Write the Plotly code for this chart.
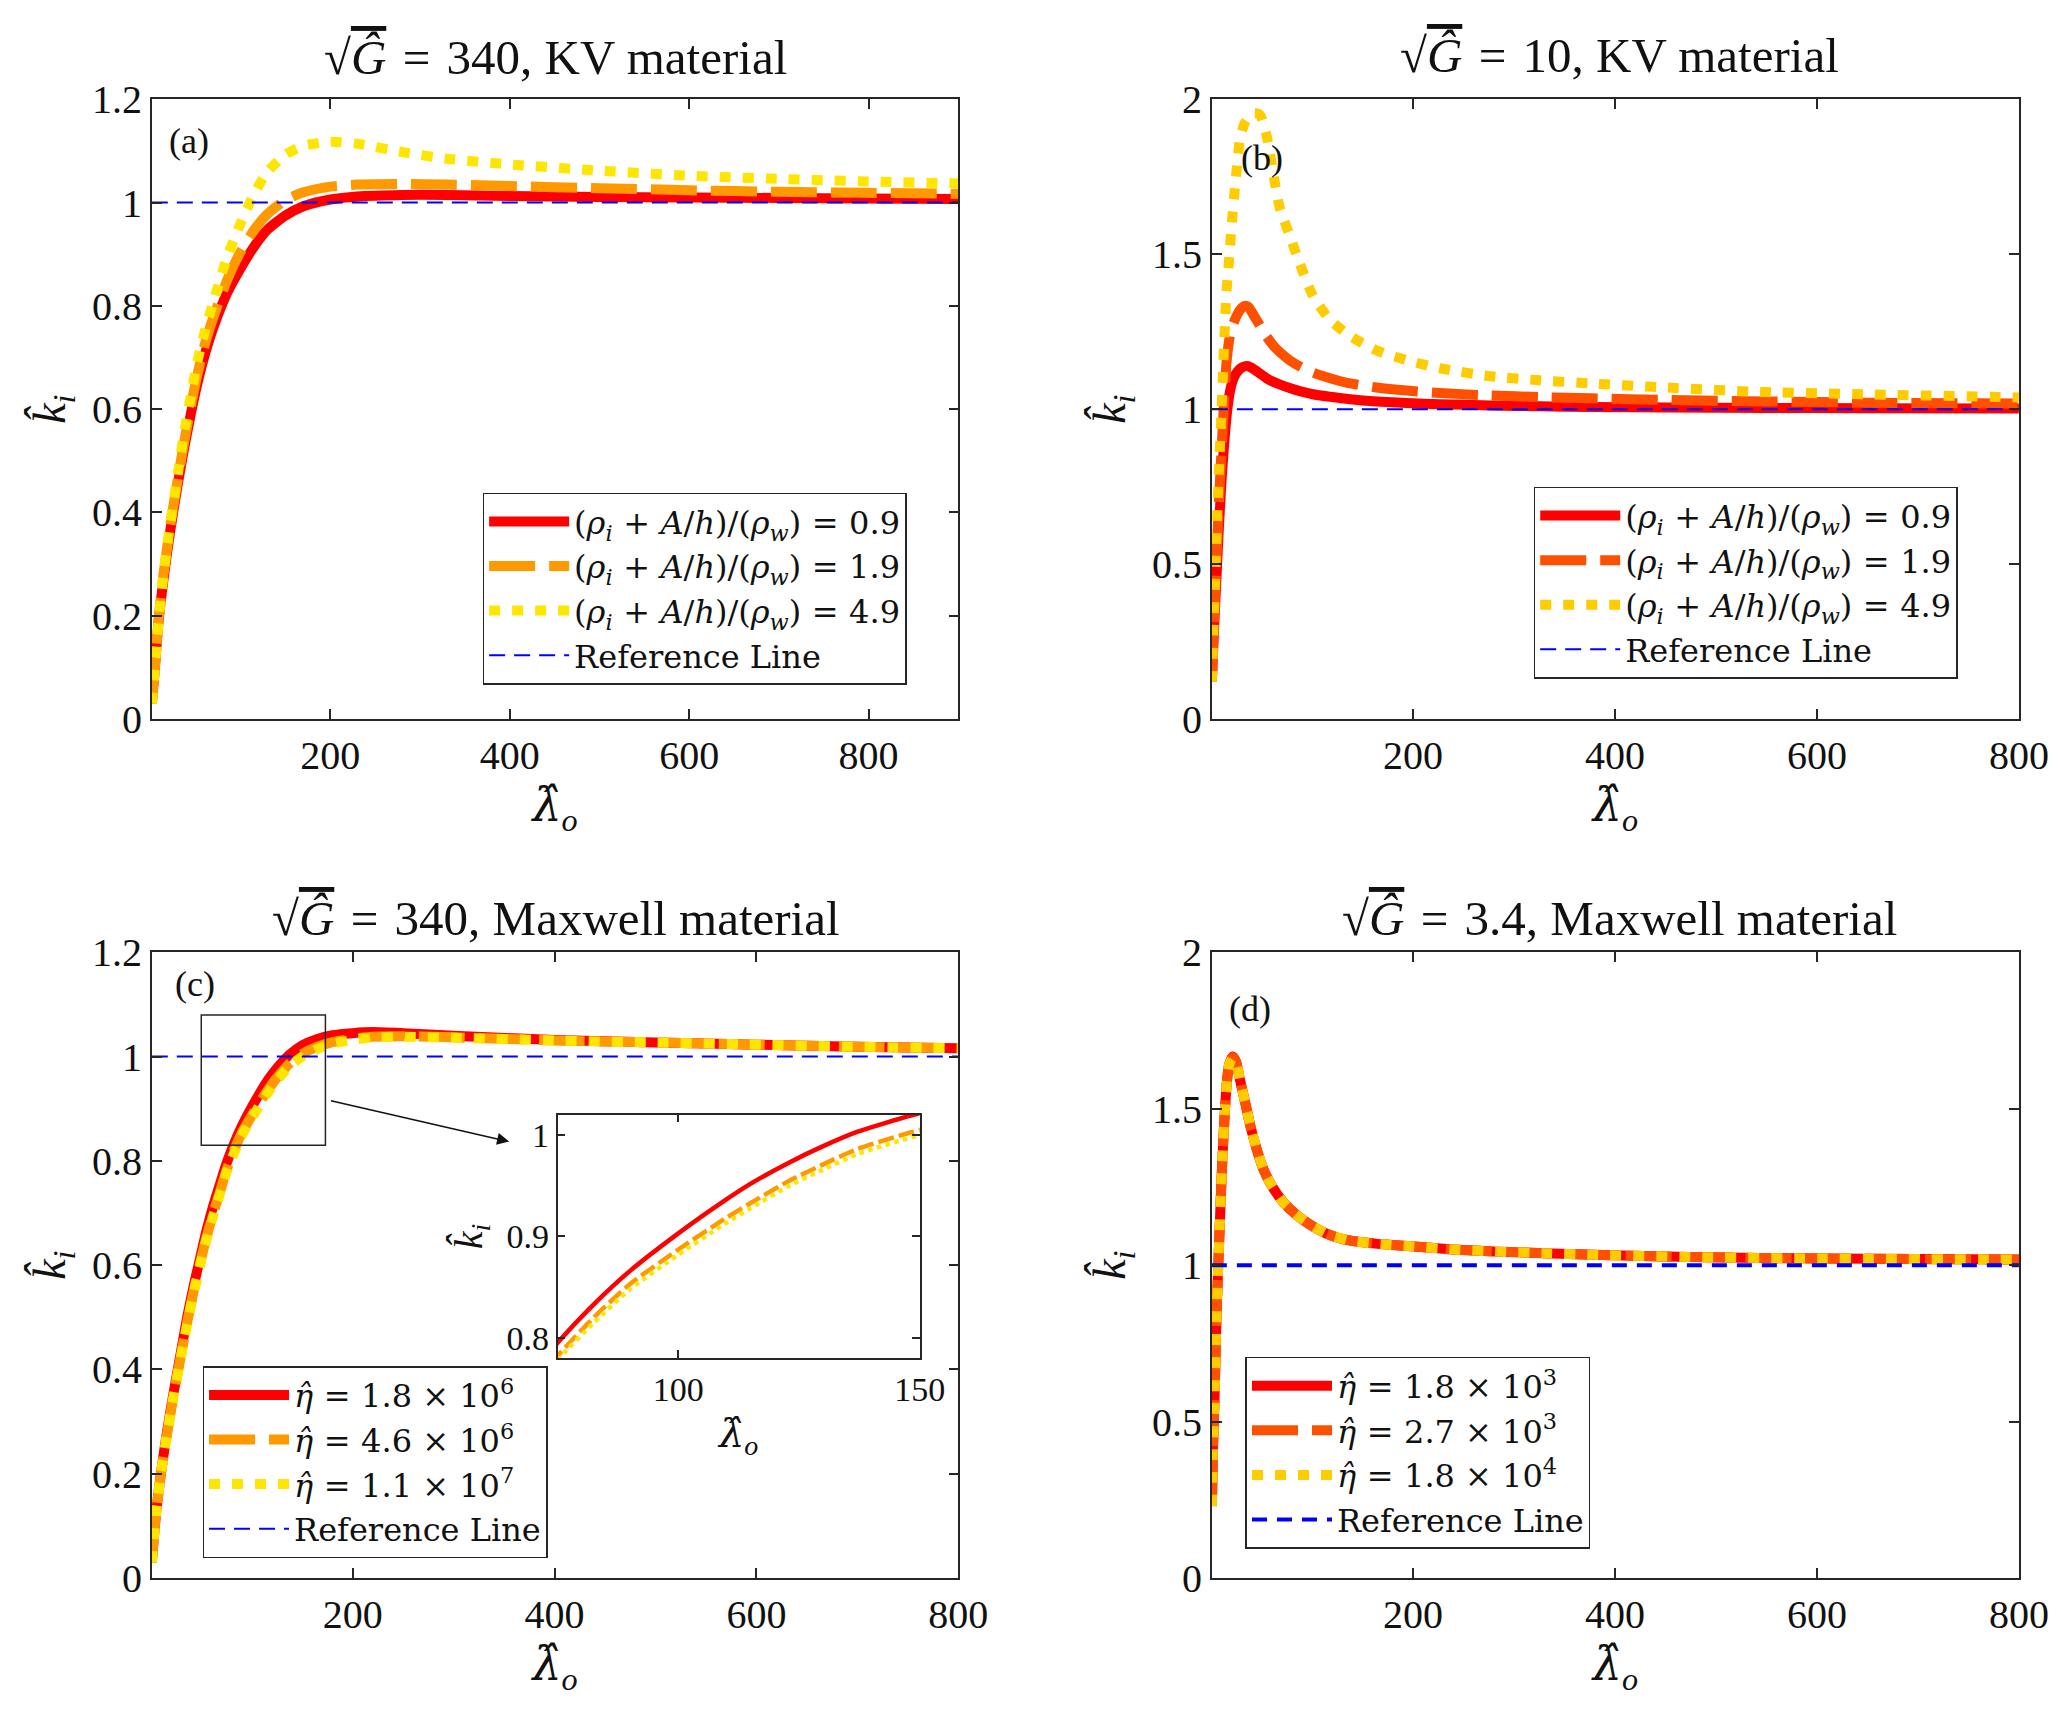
import plotly.graph_objects as go

# ---- panel (a): sqrt(G)=340, KV material ----
lam_a = [1, 4, 8.6, 14, 21.6, 30, 36.6, 45, 51.5, 60, 70, 85, 100, 115, 130, 150,
         170, 200, 230, 280, 330, 400, 500, 600, 700, 800, 900]
ki_a_09 = [0.03, 0.09, 0.19, 0.27, 0.365, 0.455, 0.52, 0.595, 0.647, 0.705, 0.76, 0.825,
           0.873, 0.915, 0.948, 0.975, 0.993, 1.006, 1.012, 1.015, 1.015, 1.013, 1.011,
           1.01, 1.009, 1.008, 1.007]
ki_a_19 = [0.03, 0.09, 0.195, 0.28, 0.375, 0.465, 0.532, 0.61, 0.665, 0.725, 0.78, 0.85,
           0.905, 0.947, 0.978, 1.005, 1.02, 1.031, 1.035, 1.036, 1.035, 1.032, 1.028,
           1.024, 1.021, 1.019, 1.017]
ki_a_49 = [0.03, 0.09, 0.19, 0.28, 0.38, 0.475, 0.55, 0.63, 0.69, 0.75, 0.81, 0.895,
           0.96, 1.017, 1.06, 1.093, 1.11, 1.118, 1.114, 1.098, 1.085, 1.074, 1.062,
           1.052, 1.046, 1.041, 1.037]

# ---- panel (b): sqrt(G)=10, KV material ----
lam_b = [1, 3, 5.6, 8, 10.6, 13, 15.5, 18, 20.5, 24, 28.8, 33, 37, 43, 48.6, 55, 62, 68,
         78, 88, 101, 118, 138, 164, 194, 227, 277, 326, 376, 450, 550, 650, 800]
ki_b_09 = [0.12, 0.28, 0.46, 0.62, 0.77, 0.88, 0.975, 1.04, 1.08, 1.11, 1.13, 1.138, 1.139,
           1.128, 1.115, 1.10, 1.088, 1.08, 1.068, 1.058, 1.048, 1.04, 1.032, 1.025, 1.02,
           1.016, 1.012, 1.009, 1.007, 1.005, 1.004, 1.003, 1.002]
ki_b_19 = [0.12, 0.30, 0.52, 0.70, 0.87, 1.02, 1.15, 1.22, 1.26, 1.29, 1.32, 1.333, 1.33,
           1.30, 1.27, 1.235, 1.205, 1.185, 1.158, 1.138, 1.118, 1.10, 1.083, 1.07, 1.06,
           1.052, 1.044, 1.039, 1.035, 1.03, 1.025, 1.021, 1.018]
ki_b_49 = [0.12, 0.33, 0.59, 0.80, 1.0, 1.2, 1.38, 1.48, 1.59, 1.72, 1.87, 1.92, 1.94,
           1.955, 1.95, 1.886, 1.756, 1.652, 1.561, 1.47, 1.366, 1.288, 1.236, 1.19, 1.158,
           1.132, 1.106, 1.093, 1.083, 1.07, 1.055, 1.048, 1.038]

# ---- panel (c): sqrt(G)=340, Maxwell material ----
lam_c = [1, 5, 10, 16, 23, 30, 36, 43, 49, 55, 62, 70, 75, 82.5, 90, 100, 109.5, 115, 123,
         130, 137, 150, 165, 180, 200, 220, 250, 300, 400, 500, 600, 700, 800]
ki_c_18e6 = [0.03, 0.12, 0.2, 0.28, 0.36, 0.435, 0.50, 0.565, 0.615, 0.665, 0.715, 0.765,
             0.795, 0.833, 0.866, 0.903, 0.935, 0.952, 0.973, 0.989, 1.003, 1.0215, 1.034,
             1.041, 1.045, 1.047, 1.045, 1.04, 1.032, 1.027, 1.023, 1.019, 1.016]
ki_c_46e6 = [0.03, 0.12, 0.2, 0.275, 0.355, 0.428, 0.49, 0.555, 0.605, 0.652, 0.70, 0.75,
             0.782, 0.82, 0.853, 0.887, 0.917, 0.933, 0.955, 0.971, 0.986, 1.005, 1.019,
             1.028, 1.034, 1.038, 1.039, 1.037, 1.031, 1.027, 1.023, 1.019, 1.016]
ki_c_11e7 = [0.03, 0.12, 0.2, 0.274, 0.353, 0.425, 0.487, 0.551, 0.601, 0.648, 0.696, 0.746,
             0.778, 0.815, 0.848, 0.882, 0.912, 0.928, 0.95, 0.966, 0.981, 1.0, 1.015,
             1.025, 1.032, 1.037, 1.038, 1.036, 1.031, 1.027, 1.023, 1.019, 1.016]

# ---- panel (d): sqrt(G)=3.4, Maxwell material ----
lam_d = [1, 2, 3.6, 5.5, 7, 8.5, 10, 11.7, 14, 16, 18, 21.5, 25, 29, 34, 39, 45, 52, 60,
         72, 85, 98, 115, 137, 165, 195, 240, 280, 330, 378, 475, 606, 800]
ki_d_18e3 = [0.23, 0.40, 0.57, 0.83, 0.97, 1.1, 1.23, 1.36, 1.5, 1.59, 1.64, 1.667, 1.65,
             1.59, 1.52, 1.447, 1.375, 1.307, 1.255, 1.2, 1.16, 1.13, 1.1, 1.079, 1.068,
             1.061, 1.05, 1.044, 1.038, 1.033, 1.026, 1.021, 1.018]
ki_d_27e3 = [0.23, 0.40, 0.57, 0.83, 0.97, 1.1, 1.23, 1.36, 1.5, 1.59, 1.64, 1.665, 1.65,
             1.59, 1.52, 1.447, 1.375, 1.307, 1.255, 1.2, 1.16, 1.13, 1.1, 1.079, 1.068,
             1.061, 1.05, 1.044, 1.038, 1.033, 1.026, 1.021, 1.018]
ki_d_18e4 = [0.23, 0.40, 0.57, 0.83, 0.97, 1.1, 1.23, 1.36, 1.5, 1.59, 1.64, 1.662, 1.648,
             1.59, 1.52, 1.447, 1.375, 1.307, 1.255, 1.2, 1.16, 1.13, 1.1, 1.079, 1.068,
             1.061, 1.05, 1.044, 1.038, 1.033, 1.026, 1.021, 1.018]

ref_level = 1.0
xticks = [200, 400, 600, 800]
yticks_12 = [0, 0.2, 0.4, 0.6, 0.8, 1, 1.2]
yticks_2 = [0, 0.5, 1, 1.5, 2]
inset_xticks = [100, 150]
inset_yticks = [0.8, 0.9, 1]

SP = "\u2004"  # a bit wider than a plain space around operators, like TeX math
GREEK = "<span style='font-family:DejaVu Serif'>"
rho_lbl = ("(<i>ρ</i><sub><i>i</i></sub>" + SP + "+" + SP + "<i>A</i>/<i>h</i>)/(<i>ρ</i>"
           "<sub><i>w</i></sub>)" + SP + "=" + SP)
eta_lbl = "<i>η̂</i>" + SP + "=" + SP
KI = "<i>k̂</i><sub><i>i</i></sub>"
LAM = GREEK + "<i>λ̂</i></span><sub><i>o</i></sub>"
ROOT_G = "√<span style='text-decoration:overline'><i>Ĝ</i></span>\u2004=\u2004"

FONT = "Liberation Serif"
LEGFONT = "DejaVu Serif"
AXC = "#262626"
RED = "#ff0000"
ORG1, YEL1 = "#ff9900", "#ffe600"
ORG2, YEL2 = "#ff5000", "#ffcc00"

fig = go.Figure()


def add_set(xs, ys, names, cols, xa, ya, leg, w=10, show=True, refw=2,
            dashes=("solid", "46px,14px", "11px,12px")):
    for y, n, c, d in zip(ys, names, cols, dashes):
        fig.add_trace(go.Scatter(
            x=xs, y=y, name=n, mode="lines", xaxis=xa, yaxis=ya, legend=leg,
            showlegend=show,
            line=dict(color=c, width=w, dash=d, shape="spline", smoothing=0.6)))
    if show:
        fig.add_trace(go.Scatter(
            x=[xs[0], xs[-1]], y=[ref_level, ref_level], name="Reference Line",
            mode="lines", xaxis=xa, yaxis=ya, legend=leg,
            line=dict(color="#0000ff", width=refw,
                      dash="16px,9px" if refw < 3 else "15px,10px")))


rho_names = [rho_lbl + "0.9", rho_lbl + "1.9", rho_lbl + "4.9"]
add_set(lam_a, [ki_a_09, ki_a_19, ki_a_49], rho_names, [RED, ORG1, YEL1], "x", "y", "legend")
add_set(lam_b, [ki_b_09, ki_b_19, ki_b_49], rho_names, [RED, ORG2, YEL2], "x2", "y2", "legend2")
add_set(lam_c, [ki_c_18e6, ki_c_46e6, ki_c_11e7],
        [eta_lbl + "1.8 × 10<sup>6</sup>", eta_lbl + "4.6 × 10<sup>6</sup>",
         eta_lbl + "1.1 × 10<sup>7</sup>"], [RED, ORG1, YEL1], "x3", "y3", "legend3")
add_set(lam_d, [ki_d_18e3, ki_d_27e3, ki_d_18e4],
        [eta_lbl + "1.8 × 10<sup>3</sup>", eta_lbl + "2.7 × 10<sup>3</sup>",
         eta_lbl + "1.8 × 10<sup>4</sup>"], [RED, ORG2, YEL2], "x4", "y4", "legend4", refw=4)
# inset of panel (c)
add_set(lam_c, [ki_c_18e6, ki_c_46e6, ki_c_11e7], ["", "", ""], [RED, ORG1, YEL1],
        "x5", "y5", "legend", w=4.5, show=False,
        dashes=("solid", "16px,5px", "4.5px,4.5px"))


def ax(dom, rng, ticks, anchor, title, size=40, tlen=10):
    return dict(domain=dom, range=rng, tickvals=ticks, anchor=anchor,
                ticks="inside", ticklen=tlen, tickcolor=AXC, tickwidth=1.5,
                showline=True, linecolor=AXC, linewidth=1.5, mirror="ticks",
                showgrid=False, zeroline=False,
                tickfont=dict(family=FONT, size=size, color="#111"),
                title=dict(text=title, standoff=12,
                           font=dict(family=FONT, size=size + 6, color="#111")))


XL, XR = [0.0706, 0.4665], [0.5910, 0.9872]
YT, YB = [0.5867, 0.9584], [0.0714, 0.4467]

fig.update_layout(
    width=2067, height=1712, autosize=False,
    margin=dict(l=0, r=0, t=0, b=0),
    paper_bgcolor="white", plot_bgcolor="white",
    font=dict(family=FONT, color="#111"),
    xaxis=ax(XL, [1, 900], xticks, "y", LAM),
    yaxis=ax(YT, [0, 1.2], yticks_12, "x", KI),
    xaxis2=ax(XR, [1, 800], xticks, "y2", LAM),
    yaxis2=ax(YT, [0, 2], yticks_2, "x2", KI),
    xaxis3=ax(XL, [1, 800], xticks, "y3", LAM),
    yaxis3=ax(YB, [0, 1.2], yticks_12, "x3", KI),
    xaxis4=ax(XR, [1, 800], xticks, "y4", LAM),
    yaxis4=ax(YB, [0, 2], yticks_2, "x4", KI),
    xaxis5=ax([0.2698, 0.4476], [75, 150], inset_xticks, "y5", LAM, size=34, tlen=8),
    yaxis5=ax([0.2033, 0.3493], [0.78, 1.02], inset_yticks, "x5", KI, size=34, tlen=8),
)

legbox = dict(bgcolor="white", bordercolor=AXC, borderwidth=1.5, xanchor="left",
              yanchor="top", itemwidth=80, tracegroupgap=0,
              font=dict(family=LEGFONT, size=32, color="#111"))
fig.update_layout(
    legend=dict(legbox, x=0.2330, y=0.7225),
    legend2=dict(legbox, x=0.7490, y=0.726),
    legend3=dict(legbox, x=0.0955, y=0.1985),
    legend4=dict(legbox, x=0.6075, y=0.2040),
)

titles = [
    (ROOT_G + "340, KV material", 0.269, 0.9835),
    (ROOT_G + "10, KV material", 0.791, 0.9845),
    (ROOT_G + "340, Maxwell material", 0.269, 0.4673),
    (ROOT_G + "3.4, Maxwell material", 0.791, 0.4673),
]
for txt, x, y in titles:
    fig.add_annotation(text=txt, x=x, y=y, xref="paper", yref="paper",
                       showarrow=False, xanchor="center", yanchor="middle",
                       font=dict(family=FONT, size=49, color="#111"))

panel_tags = [("(a)", "x", "y", 42, 1.12), ("(b)", "x2", "y2", 51, 1.81),
              ("(c)", "x3", "y3", 44, 1.14), ("(d)", "x4", "y4", 39, 1.82)]
for txt, xa, ya, x, y in panel_tags:
    fig.add_annotation(text=txt, x=x, y=y, xref=xa, yref=ya, showarrow=False,
                       font=dict(family=FONT, size=36, color="#111"))

# zoom box and arrow in panel (c)
fig.add_shape(type="rect", xref="x3", yref="y3", x0=50, x1=173, y0=0.83, y1=1.08,
              line=dict(color=AXC, width=1.5))
fig.add_annotation(x=355, y=0.837, ax=177, ay=0.916, xref="x3", yref="y3",
                   axref="x3", ayref="y3", text="", showarrow=True, arrowhead=2,
                   arrowsize=1.6, arrowwidth=1.5, arrowcolor="#111")

fig.write_html("out.html")
